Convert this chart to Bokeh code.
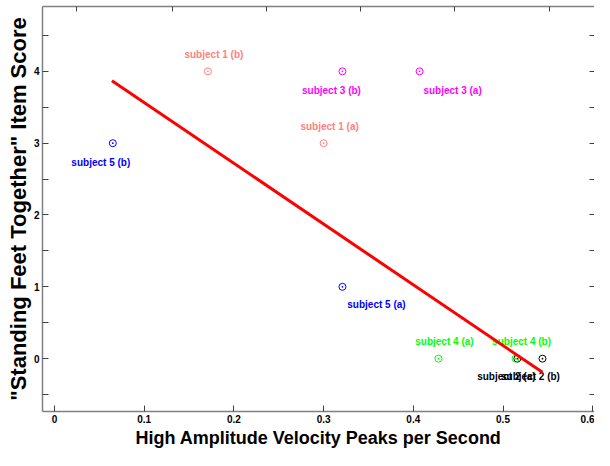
from bokeh.plotting import figure, ColumnDataSource
from bokeh.models import LinearAxis, FixedTicker, Range1d
from bokeh.core.properties import value
from bokeh.embed import file_html
from bokeh.resources import INLINE

# ---- data ----
labels = ["subject 1 (a)", "subject 1 (b)", "subject 2 (a)", "subject 2 (b)",
          "subject 3 (a)", "subject 3 (b)", "subject 4 (a)", "subject 4 (b)",
          "subject 5 (a)", "subject 5 (b)"]
peaks = [0.300, 0.171, 0.516, 0.544, 0.407, 0.321, 0.428, 0.514, 0.321, 0.065]
scores = [3, 4, 0, 0, 4, 4, 0, 0, 1, 3]
colors = ["#ff8080", "#ff8080", "#000000", "#000000", "#ff00ff", "#ff00ff",
          "#00ff00", "#00ff00", "#0000ff", "#0000ff"]
# label offsets (screen px)
label_dx = [6, 6, -11, -12, 33, -11, 6, 6, 34, -12]
label_dy = [-17, -17, 18, 18, 19, 19, -17, -17, 18, 19]

fit_x = [0.064, 0.544]
fit_y = [3.87, -0.19]

x_ticks = [0, 0.1, 0.2, 0.3, 0.4, 0.5, 0.6]
x_tick_labels = ["0", "0.1", "0.2", "0.3", "0.4", "0.5", "0.6"]
top_ticks = [0.0245, 0.1316, 0.2363, 0.3411, 0.4459, 0.5518]
y_ticks = [-0.5, 0, 0.5, 1, 1.5, 2, 2.5, 3, 3.5, 4, 4.5]
y_tick_labels = ["", "0", "", "1", "", "2", "", "3", "", "4", ""]

FONT = "Liberation Sans"
SPINE = "#808080"

p = figure(width=594, height=450, output_backend="svg", toolbar_location=None,
           x_range=Range1d(-0.0134, 0.602), y_range=Range1d(-0.736, 4.903),
           x_axis_label="High Amplitude Velocity Peaks per Second",
           y_axis_label='"Standing Feet Together" Item Score',
           min_border_left=42, min_border_right=0, min_border_top=6,
           min_border_bottom=38)
p.outline_line_color = None
p.grid.visible = False
p.background_fill_color = "white"
p.border_fill_color = "white"

# bottom axis
xa = p.xaxis[0]
xa.ticker = FixedTicker(ticks=x_ticks)
xa.major_label_overrides = {t: l for t, l in zip(x_ticks, x_tick_labels)}
# left axis
ya = p.yaxis[0]
ya.ticker = FixedTicker(ticks=y_ticks)
ya.major_label_overrides = {t: l for t, l in zip(y_ticks, y_tick_labels)}

for ax in (xa, ya):
    ax.axis_line_color = SPINE
    ax.axis_line_width = 1.5
    ax.major_tick_line_color = "#404040"
    ax.major_tick_in = 6
    ax.major_tick_out = 0
    ax.minor_tick_line_color = None
    ax.major_label_text_font = FONT
    ax.major_label_text_font_style = "bold"
    ax.major_label_text_font_size = "10px"
    ax.major_label_text_color = "black"
    ax.major_label_standoff = 3
    ax.axis_label_text_font = FONT
    ax.axis_label_text_font_style = "bold"
    ax.axis_label_text_color = "black"
xa.axis_label_text_font_size = "18px"
xa.axis_label_standoff = 2
ya.axis_label_text_font_size = "22px"
ya.axis_label_standoff = 0

# top axis (ticks only)
top = LinearAxis(ticker=FixedTicker(ticks=top_ticks))
top.major_label_overrides = {t: "" for t in top_ticks}
# right axis (ticks only)
right = LinearAxis(ticker=FixedTicker(ticks=y_ticks))
right.major_label_overrides = {t: "" for t in y_ticks}
for ax, line in ((top, SPINE), (right, None)):
    ax.axis_line_color = line
    ax.axis_line_width = 1.5
    ax.major_tick_line_color = "#404040"
    ax.major_tick_in = 5
    ax.major_tick_out = 0
    ax.minor_tick_line_color = None
    ax.major_label_text_font_size = "1px"
    ax.major_label_standoff = 0
p.add_layout(top, "above")
p.add_layout(right, "right")

src = ColumnDataSource(dict(x=peaks, y=scores, label=labels, color=colors,
                            dx=label_dx, dy=label_dy))

p.text(x="x", y="y", text="label", source=src, text_color="color",
       x_offset="dx", y_offset="dy", text_align="center", text_baseline="middle",
       text_font=value(FONT), text_font_style="bold", text_font_size="10px")
p.scatter(x="x", y="y", source=src, marker="circle_dot", size=7,
          line_color="color", fill_color=None, line_width=1)
p.line(fit_x, fit_y, line_color="#ff0000", line_width=3)

open("out.html", "w").write(file_html(p, INLINE))
